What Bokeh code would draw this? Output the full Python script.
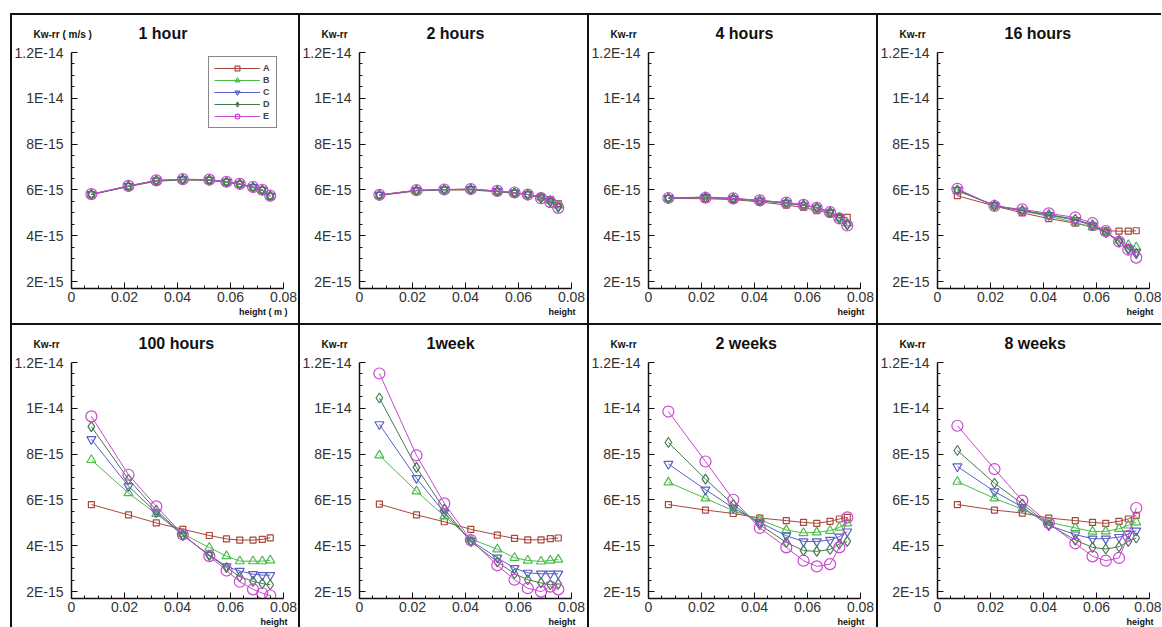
import numpy as np
from bokeh.plotting import figure
from bokeh.models import (Label, Legend, LegendItem, FixedTicker, Title,
                          CustomJSTickFormatter, Range1d, Spacer)
from bokeh.layouts import row, column
from bokeh.embed import file_html
from bokeh.resources import INLINE

# ---------------- data ----------------
height_m = [0.0075, 0.0215, 0.032, 0.042, 0.052, 0.0585, 0.0635, 0.0685, 0.072, 0.075]
series_names = ["A", "B", "C", "D", "E"]
panel_titles = ["1 hour", "2 hours", "4 hours", "16 hours",
                "100 hours", "1week", "2 weeks", "8 weeks"]
y_tick_values = [2, 4, 6, 8, 10, 12]          # in units of 1E-15 m/s
x_tick_values = [0, 0.02, 0.04, 0.06, 0.08]

# Kw-rr values, in units of 1E-15 m/s
kw_1_hour = dict(
    A=[5.80, 6.15, 6.38, 6.44, 6.42, 6.33, 6.24, 6.10, 5.98, 5.72],
    B=[5.80, 6.16, 6.40, 6.45, 6.43, 6.34, 6.25, 6.11, 5.99, 5.73],
    C=[5.81, 6.17, 6.41, 6.46, 6.44, 6.35, 6.26, 6.12, 6.00, 5.74],
    D=[5.81, 6.17, 6.41, 6.46, 6.44, 6.35, 6.26, 6.12, 6.00, 5.74],
    E=[5.82, 6.18, 6.42, 6.47, 6.45, 6.36, 6.27, 6.13, 6.01, 5.75])
kw_2_hours = dict(
    A=[5.76, 5.96, 6.00, 6.00, 5.92, 5.86, 5.80, 5.70, 5.58, 5.40],
    B=[5.77, 5.97, 6.01, 6.02, 5.94, 5.87, 5.80, 5.68, 5.54, 5.33],
    C=[5.78, 5.98, 6.01, 6.03, 5.95, 5.88, 5.80, 5.66, 5.51, 5.28],
    D=[5.78, 5.98, 6.02, 6.03, 5.95, 5.88, 5.80, 5.65, 5.49, 5.25],
    E=[5.79, 5.99, 6.02, 6.04, 5.96, 5.89, 5.80, 5.64, 5.47, 5.22])
kw_4_hours = dict(
    A=[5.63, 5.62, 5.58, 5.48, 5.34, 5.24, 5.10, 4.98, 4.80, 4.80],
    B=[5.64, 5.70, 5.62, 5.52, 5.42, 5.32, 5.25, 5.02, 4.78, 4.55],
    C=[5.64, 5.68, 5.62, 5.53, 5.43, 5.33, 5.22, 5.02, 4.77, 4.50],
    D=[5.65, 5.67, 5.63, 5.54, 5.44, 5.34, 5.22, 5.03, 4.77, 4.48],
    E=[5.65, 5.66, 5.63, 5.55, 5.45, 5.35, 5.22, 5.03, 4.76, 4.45])
kw_16_hours = dict(
    A=[5.75, 5.30, 5.00, 4.75, 4.55, 4.38, 4.22, 4.20, 4.20, 4.22],
    B=[5.95, 5.35, 5.08, 4.85, 4.58, 4.38, 4.15, 3.80, 3.60, 3.50],
    C=[6.00, 5.32, 5.10, 4.90, 4.68, 4.45, 4.15, 3.75, 3.45, 3.30],
    D=[6.00, 5.30, 5.10, 4.93, 4.72, 4.48, 4.15, 3.75, 3.42, 3.22],
    E=[6.05, 5.30, 5.15, 4.98, 4.80, 4.55, 4.20, 3.75, 3.40, 3.05])
kw_100_hours = dict(
    A=[5.80, 5.35, 5.00, 4.72, 4.45, 4.30, 4.25, 4.25, 4.28, 4.35],
    B=[7.75, 6.30, 5.40, 4.52, 3.92, 3.55, 3.33, 3.33, 3.33, 3.37],
    C=[8.65, 6.60, 5.45, 4.45, 3.60, 3.10, 2.90, 2.76, 2.72, 2.72],
    D=[9.20, 6.90, 5.55, 4.48, 3.58, 3.05, 2.65, 2.45, 2.35, 2.30],
    E=[9.65, 7.10, 5.72, 4.50, 3.55, 2.92, 2.43, 2.10, 1.93, 1.83])
kw_1_week = dict(
    A=[5.82, 5.35, 5.05, 4.72, 4.47, 4.32, 4.26, 4.26, 4.31, 4.34],
    B=[7.95, 6.38, 5.30, 4.30, 3.85, 3.48, 3.36, 3.32, 3.36, 3.40],
    C=[9.30, 6.95, 5.45, 4.22, 3.48, 3.02, 2.82, 2.78, 2.78, 2.78],
    D=[10.45, 7.42, 5.60, 4.18, 3.30, 2.78, 2.52, 2.38, 2.30, 2.34],
    E=[11.52, 7.95, 5.85, 4.25, 3.15, 2.52, 2.15, 2.00, 2.22, 2.10])
kw_2_weeks = dict(
    A=[5.80, 5.56, 5.41, 5.21, 5.10, 5.02, 4.98, 5.07, 5.17, 5.24],
    B=[6.77, 6.07, 5.53, 5.14, 4.69, 4.56, 4.59, 4.66, 4.80, 4.98],
    C=[7.57, 6.45, 5.65, 5.02, 4.44, 4.19, 4.19, 4.25, 4.40, 4.62],
    D=[8.51, 6.91, 5.80, 4.92, 4.15, 3.79, 3.76, 3.84, 4.08, 4.19],
    E=[9.86, 7.68, 6.01, 4.78, 3.93, 3.35, 3.10, 3.20, 3.93, 5.24])
kw_8_weeks = dict(
    A=[5.80, 5.56, 5.43, 5.21, 5.10, 5.02, 4.98, 5.07, 5.17, 5.33],
    B=[6.80, 6.07, 5.60, 5.03, 4.78, 4.62, 4.63, 4.74, 4.89, 5.03],
    C=[7.46, 6.37, 5.69, 4.89, 4.49, 4.31, 4.31, 4.38, 4.52, 4.66],
    D=[8.16, 6.73, 5.83, 4.92, 4.25, 3.93, 3.86, 3.96, 4.19, 4.34],
    E=[9.24, 7.35, 5.97, 4.99, 4.11, 3.54, 3.35, 3.47, 4.44, 5.65])

panel_data = [kw_1_hour, kw_2_hours, kw_4_hours, kw_16_hours,
              kw_100_hours, kw_1_week, kw_2_weeks, kw_8_weeks]

# ---------------- styles ----------------
colors = dict(A="#a8473b", B="#4cbb4c", C="#5a5ec8", D="#447a4c", E="#c848d0")
markers = dict(A="square", B="triangle", C="inverted_triangle", D="diamond", E="circle")
msizes = dict(A=6, B=9, C=9, D=10, E=11)

col_widths = [288, 289, 289, 285]
row_heights = [310, 304]
FRAME_L, FRAME_W, FRAME_T, FRAME_H = 61, 212, 39, 236
FONT = "Liberation Sans"

y_minor = [v for v in np.arange(2, 12.01, 0.5) if v not in y_tick_values]
x_minor = [v for v in np.arange(0, 0.0801, 0.005)]

yfmt = """
if (tick >= 10) { const m = tick / 10; return (Math.round(m*10)/10).toString() + "E-14"; }
return tick.toString() + "E-15";
"""
xfmt = """
if (Math.abs(tick) < 1e-9) { return "0"; }
return tick.toFixed(2);
"""


def make_panel(idx):
    r, c = divmod(idx, 4)
    w, h = col_widths[c], row_heights[r]
    p = figure(width=w, height=h, output_backend="svg", toolbar_location=None,
               title=None,
               x_range=Range1d(0, 0.08), y_range=Range1d(1.7, 12),
               min_border_left=FRAME_L, min_border_right=w - FRAME_L - FRAME_W,
               min_border_top=FRAME_T, min_border_bottom=h - FRAME_T - FRAME_H,
               border_fill_color=None, background_fill_color="white",
               outline_line_color=None,
               styles={"box-shadow": "inset 2px 2px 0 0 #111"})
    p.xgrid.visible = False
    p.ygrid.visible = False

    p.yaxis.ticker = FixedTicker(ticks=y_tick_values, minor_ticks=y_minor)
    p.xaxis.ticker = FixedTicker(ticks=x_tick_values, minor_ticks=x_minor)
    p.yaxis.formatter = CustomJSTickFormatter(code=yfmt)
    p.xaxis.formatter = CustomJSTickFormatter(code=xfmt)
    for ax in (p.xaxis[0], p.yaxis[0]):
        ax.axis_line_color = "#111"
        ax.axis_line_width = 1.5
        ax.major_tick_line_color = "#111"
        ax.major_tick_in = 6
        ax.major_tick_out = 0
        ax.minor_tick_line_color = "#111"
        ax.minor_tick_in = 3
        ax.minor_tick_out = 0
        ax.major_label_text_font = FONT
        ax.major_label_text_font_size = "14px"
        ax.major_label_text_color = "#333"
    p.yaxis.major_label_standoff = 8
    p.xaxis.major_label_standoff = 3

    data = panel_data[idx]
    items = []
    for s in series_names:
        ln = p.line(height_m, data[s], line_color=colors[s], line_width=1)
        sc = p.scatter(height_m, data[s], marker=markers[s], size=msizes[s],
                       line_color=colors[s], fill_color=None, line_width=1.2)
        items.append(LegendItem(label=s, renderers=[ln, sc]))

    if idx == 0:
        leg = Legend(items=items, location=(137, 160), orientation="vertical",
                     border_line_color="#111", border_line_width=1,
                     background_fill_color="white", background_fill_alpha=1,
                     padding=5, spacing=0, margin=0,
                     glyph_width=46, glyph_height=12, label_height=12,
                     label_width=8, label_standoff=3,
                     label_text_font=FONT, label_text_font_size="9px",
                     label_text_font_style="bold")
        p.add_layout(leg)

    kw_text = "Kw-rr ( m/s )" if idx == 0 else "Kw-rr"
    h_text = "height ( m )" if idx == 0 else "height"

    # panel title: label in the top side panel, relative to the frame's top-left
    p.add_layout(Label(x=67, y=19, x_units="screen", y_units="screen",
                       text=panel_titles[idx], text_font=FONT, text_font_size="16px",
                       text_font_style="bold", text_color="#111",
                       text_align="left", text_baseline="middle"), "above")
    # quantity label, stacked outside the title's panel
    p.add_layout(Label(x=-38, y=1, x_units="screen", y_units="screen",
                       text=kw_text, text_font=FONT, text_font_size="10px",
                       text_font_style="bold", text_color="#111",
                       text_align="left", text_baseline="middle"), "above")
    # x-axis name, bottom right
    p.add_layout(Title(text=h_text, align="right", offset=-4,
                       text_font=FONT, text_font_size="9px", text_font_style="bold",
                       text_color="#111", standoff=0), "below")
    return p


panels = [make_panel(i) for i in range(8)]
grid = column(row(*panels[:4]), row(*panels[4:]))
layout = column(Spacer(height=13), row(Spacer(width=10), grid))

open("out.html", "w").write(file_html(layout, INLINE))
